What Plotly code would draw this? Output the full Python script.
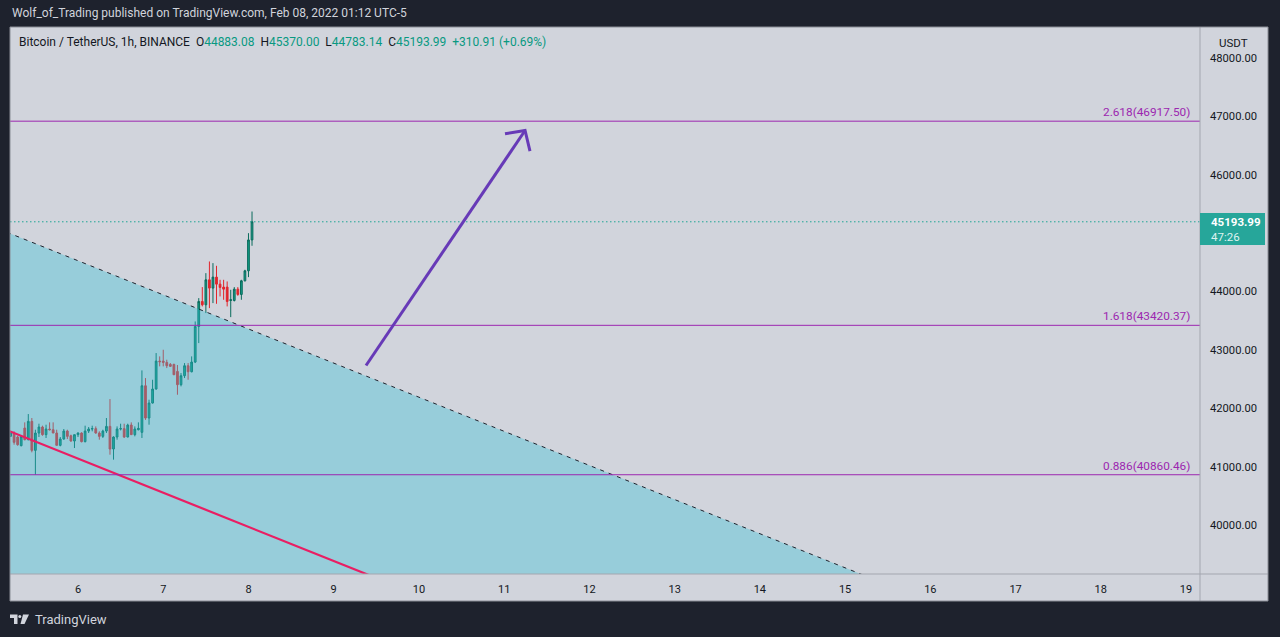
import plotly.graph_objects as go
import pandas as pd

# ---------------- data ----------------
times = pd.date_range("2022-02-05 05:00", periods=69, freq="h")
opens = [41518, 41575, 41507, 41358, 41660, 41461, 41775, 41278, 41575, 41678,
         41547, 41644, 41632, 41575, 41364, 41472, 41609, 41529, 41438, 41547,
         41575, 41427, 41609, 41644, 41650, 41575, 41518, 41609, 41689, 41301,
         41507, 41644, 41650, 41507, 41712, 41547, 41632, 41587, 42385, 41832,
         42089, 42329, 42808, 42808, 42785, 42751, 42751, 42631, 42403, 42557,
         42728, 42625, 42791, 43401, 43829, 43772, 44200, 44058, 44246, 44126,
         44075, 44075, 43846, 43846, 44040, 43949, 44183, 44354, 44883.08]
highs = [41604, 41604, 41529, 41529, 41758, 41900, 41832, 41632, 41735, 41701,
         41718, 41758, 41758, 41632, 41507, 41644, 41632, 41547, 41547, 41587,
         41587, 41701, 41678, 41701, 41689, 41604, 41632, 41832, 42157, 41518,
         41689, 41735, 41735, 41735, 41758, 41689, 41758, 42648, 42517, 42146,
         42488, 42945, 42888, 43002, 42831, 42774, 42762, 42740, 42602, 42774,
         42774, 42888, 43487, 43886, 44075, 44314, 44514, 44486, 44440, 44200,
         44200, 44172, 44029, 44075, 44075, 44200, 44372, 44999, 45370.00]
lows = [41507, 41375, 41358, 41347, 41450, 41450, 41244, 40860.46, 41507, 41529,
        41490, 41620, 41575, 41364, 41347, 41461, 41472, 41427, 41318, 41507,
        41415, 41415, 41575, 41604, 41564, 41461, 41490, 41575, 41204, 41119,
        41461, 41620, 41490, 41501, 41547, 41518, 41620, 41490, 41800, 41718,
        42080, 42320, 42717, 42717, 42688, 42706, 42568, 42231, 42374, 42517,
        42488, 42614, 42774, 43116, 43744, 43630, 43715, 43801, 43789, 43915,
        43858, 43744, 43561, 43829, 43926, 43858, 44172, 44246, 44783.14]
closes = [41575, 41415, 41375, 41518, 41461, 41775, 41278, 41575, 41678, 41547,
          41644, 41632, 41575, 41364, 41472, 41609, 41518, 41438, 41547, 41575,
          41427, 41609, 41644, 41650, 41575, 41518, 41609, 41689, 41301, 41507,
          41644, 41650, 41507, 41712, 41547, 41644, 41655, 42385, 41832, 42089,
          42329, 42808, 42797, 42785, 42728, 42717, 42574, 42403, 42557, 42728,
          42625, 42791, 43401, 43829, 43772, 44200, 44058, 44246, 44126, 44069,
          44040, 43829, 43858, 44040, 43949, 44183, 44354, 44883.08, 45193.99]

fib_ratios = ["2.618", "1.618", "0.886"]
fib_levels = [46917.50, 43420.37, 40860.46]
countdown = "47:26"

trend_x = ["2022-02-05 04:00", "2022-02-15 12:00"]
trend_y = [45014, 38974]
pink_x = ["2022-02-05 04:00", "2022-02-09 12:00"]
pink_y = [41624, 39091]
arrow_x = ["2022-02-09 09:06", "2022-02-11 05:53"]
arrow_y = [42732, 46758]
head_x = ["2022-02-11 00:14", "2022-02-11 05:53", "2022-02-11 07:16"]
head_y = [46701, 46758, 46403]

day_ticks = pd.date_range("2022-02-06", "2022-02-19", freq="D")
day_labels = [str(d.day) for d in day_ticks]
price_ticks = [40000, 41000, 42000, 43000, 44000, 46000, 47000, 48000]

x_range = ["2022-02-05 04:51", "2022-02-19 03:56"]
y_range = [39160, 48531]
fill_floor = 38000

# ---------------- layout geometry ----------------
W, H = 1280, 637
L, R, T, B = 10, 1200, 27, 574
PR, PB = 1268, 601

def fx(p):
    return (p - L) / (R - L)

def fy(p):
    return (B - p) / (B - T)

BG_DARK = "#1e222d"
PANEL = "#d1d4dc"
TEXT = "#131722"
TEAL = "#089981"
FIB = "#9c27b0"
SEP = "#a3a6af"
FONT = "Roboto"

fig = go.Figure()

fig.add_trace(go.Candlestick(
    x=times, open=opens, high=highs, low=lows, close=closes,
    increasing=dict(line=dict(color="#0a6b5c", width=1), fillcolor="#129e88"),
    decreasing=dict(line=dict(color="#e2262c", width=1), fillcolor="#e2262c"),
    whiskerwidth=0, showlegend=False, hoverinfo="skip"))

# shaded region under descending trend line (drawn over candles, translucent)
fig.add_trace(go.Scatter(
    x=[trend_x[0], trend_x[1], trend_x[1], trend_x[0], trend_x[0]],
    y=[trend_y[0], trend_y[1], fill_floor, fill_floor, trend_y[0]],
    mode="lines", fill="toself", fillcolor="rgba(50,195,215,0.36)",
    line=dict(width=0), showlegend=False, hoverinfo="skip"))

fig.add_trace(go.Scatter(
    x=trend_x, y=trend_y, mode="lines",
    line=dict(color="#1e222d", width=1, dash="4px,5px"),
    showlegend=False, hoverinfo="skip"))

fig.add_trace(go.Scatter(
    x=pink_x, y=pink_y, mode="lines",
    line=dict(color="#e91e63", width=2.2),
    showlegend=False, hoverinfo="skip"))

# fib levels
for lvl in fib_levels:
    fig.add_trace(go.Scatter(
        x=[x_range[0], x_range[1]], y=[lvl, lvl], mode="lines",
        line=dict(color=FIB, width=1), showlegend=False, hoverinfo="skip"))

# last price dotted line
fig.add_trace(go.Scatter(
    x=[x_range[0], x_range[1]], y=[closes[-1], closes[-1]], mode="lines",
    line=dict(color="#1fa595", width=1, dash="1.5px,2.5px"),
    showlegend=False, hoverinfo="skip"))

# arrow
fig.add_trace(go.Scatter(
    x=arrow_x, y=arrow_y, mode="lines",
    line=dict(color="#673ab7", width=3), showlegend=False, hoverinfo="skip"))
fig.add_trace(go.Scatter(
    x=head_x, y=head_y, mode="lines",
    line=dict(color="#673ab7", width=3), showlegend=False, hoverinfo="skip"))

shapes = []
# light panel behind axes areas
shapes.append(dict(type="rect", xref="paper", yref="paper", x0=fx(L), x1=fx(PR),
                   y0=fy(PB), y1=fy(T), fillcolor=PANEL, line=dict(width=0), layer="below"))
# separators
shapes.append(dict(type="line", xref="paper", yref="paper", x0=fx(R), x1=fx(R),
                   y0=fy(PB), y1=fy(T), line=dict(color=SEP, width=1)))
shapes.append(dict(type="line", xref="paper", yref="paper", x0=fx(L), x1=fx(PR),
                   y0=fy(B), y1=fy(B), line=dict(color=SEP, width=1)))
# border
shapes.append(dict(type="rect", xref="paper", yref="paper", x0=fx(L), x1=fx(PR),
                   y0=fy(PB), y1=fy(T), line=dict(color="#8a8d96", width=1)))
# last price label box
shapes.append(dict(type="rect", xref="paper", yref="paper", x0=fx(R), x1=fx(1265),
                   y0=fy(245), y1=fy(213), fillcolor="#26a69a", line=dict(width=0)))

# TradingView logo (approximation)
def path_px(points):
    return "M " + " L ".join(f"{fx(x)},{fy(y)}" for x, y in points) + " Z"

logo_c = "#d1d4dc"
shapes.append(dict(type="path", xref="paper", yref="paper",
                   path=path_px([(10, 614.5), (17.5, 614.5), (17.5, 624), (14, 624), (14, 618), (10, 618)]),
                   fillcolor=logo_c, line=dict(width=0)))
shapes.append(dict(type="circle", xref="paper", yref="paper", x0=fx(18.3), x1=fx(21.3),
                   y0=fy(618), y1=fy(615), fillcolor=logo_c, line=dict(width=0)))
shapes.append(dict(type="path", xref="paper", yref="paper",
                   path=path_px([(23, 614.5), (29, 614.5), (24.5, 624), (20.5, 624)]),
                   fillcolor=logo_c, line=dict(width=0)))

annotations = []
annotations.append(dict(
    xref="paper", yref="paper", x=fx(10), y=fy(13), xanchor="left", yanchor="middle",
    text="Wolf_of_Trading published on TradingView.com, Feb 08, 2022 01:12 UTC-5",
    showarrow=False, font=dict(family=FONT, size=12, color="#d1d4dc")))

chg = closes[-1] - closes[-2]
pct = chg / closes[-2] * 100
sp = "\u00a0\u00a0"

def tv(v):
    return f"<span style='color:{TEAL}'>{v}</span>"

legend_txt = ("Bitcoin / TetherUS, 1h, BINANCE" + sp +
              "O" + tv(f"{opens[-1]:.2f}") + sp +
              "H" + tv(f"{highs[-1]:.2f}") + sp +
              "L" + tv(f"{lows[-1]:.2f}") + sp +
              "C" + tv(f"{closes[-1]:.2f}") + sp +
              tv(f"{chg:+.2f} ({pct:+.2f}%)"))
annotations.append(dict(
    xref="paper", yref="paper", x=fx(17), y=fy(42), xanchor="left", yanchor="middle",
    text=legend_txt, showarrow=False, font=dict(family=FONT, size=12, color=TEXT)))

for ratio, lvl in zip(fib_ratios, fib_levels):
    annotations.append(dict(
        xref="paper", yref="y", x=fx(1192), y=lvl, xanchor="right", yanchor="bottom",
        yshift=0, text=f"{ratio}({lvl:.2f})", showarrow=False,
        font=dict(family=FONT, size=11.8, color=FIB)))

annotations.append(dict(
    xref="paper", yref="paper", x=fx(1234), y=fy(43), xanchor="center", yanchor="middle",
    text="USDT", showarrow=False, font=dict(family=FONT, size=11.5, color=TEXT)))
annotations.append(dict(
    xref="paper", yref="paper", x=fx(1209), y=fy(222), xanchor="left", yanchor="middle",
    text=f"<b>{closes[-1]:.2f}</b>", showarrow=False,
    font=dict(family=FONT, size=11.5, color="#ffffff")))
annotations.append(dict(
    xref="paper", yref="paper", x=fx(1209), y=fy(237), xanchor="left", yanchor="middle",
    text=countdown, showarrow=False, font=dict(family=FONT, size=11.5, color="#dff3f0")))
annotations.append(dict(
    xref="paper", yref="paper", x=fx(33), y=fy(619), xanchor="left", yanchor="middle",
    text="TradingView", showarrow=False, font=dict(family=FONT, size=13, color="#d1d4dc")))

fig.update_layout(
    width=W, height=H,
    margin=dict(l=L, r=W - R, t=T, b=H - B, pad=0),
    paper_bgcolor=BG_DARK, plot_bgcolor=PANEL,
    showlegend=False, shapes=shapes, annotations=annotations,
    xaxis=dict(type="date", range=x_range, rangeslider=dict(visible=False),
               showgrid=False, zeroline=False, showline=False, ticks="",
               tickmode="array", tickvals=day_ticks, ticktext=day_labels,
               ticklabelstandoff=7,
               tickfont=dict(family=FONT, size=11, color=TEXT)),
    yaxis=dict(range=y_range, side="right", showgrid=False, zeroline=False,
               showline=False, ticks="", tickmode="array", tickvals=price_ticks,
               ticktext=[f"{v:.2f}" for v in price_ticks], ticklabelstandoff=9,
               tickfont=dict(family=FONT, size=11.2, color=TEXT)),
)

fig.write_html(
    "out.html",
    config={"displayModeBar": False},
    post_script="document.body.style.margin='0';document.body.style.background='#1e222d';document.documentElement.style.overflow='hidden';",
)
